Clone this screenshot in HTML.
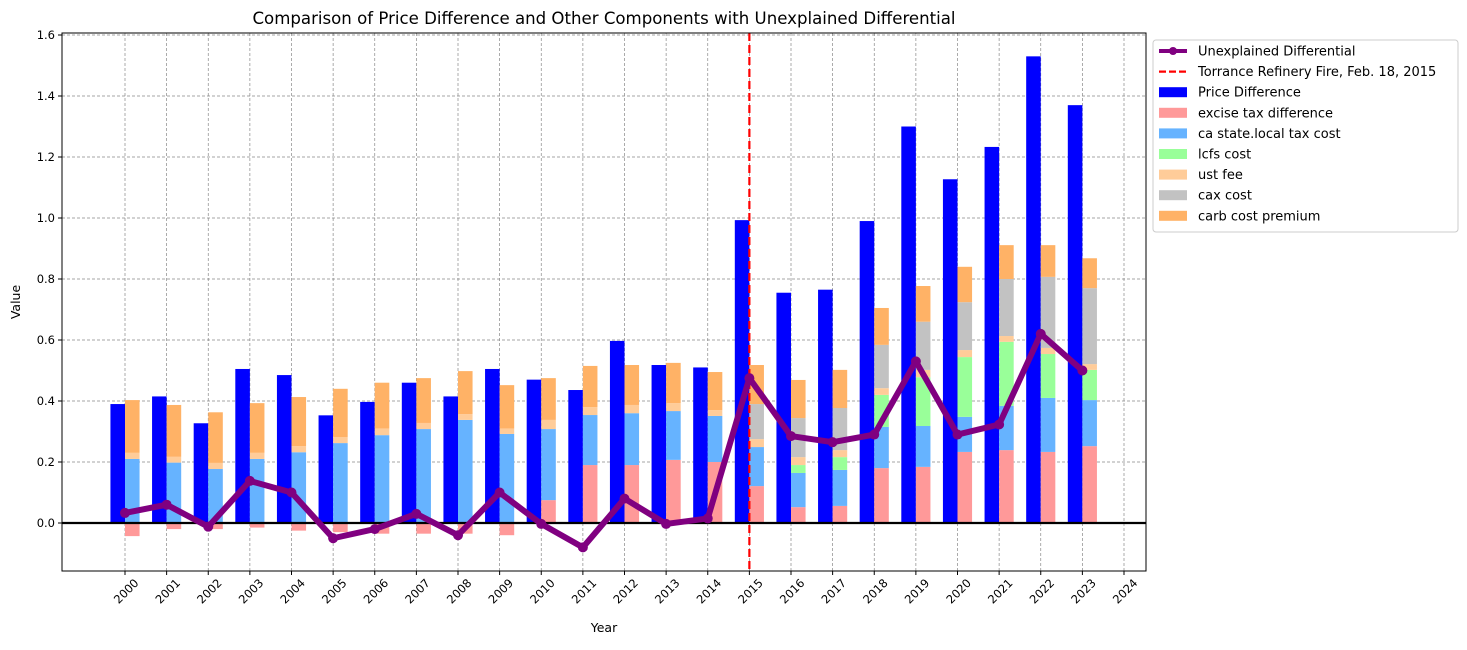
<!DOCTYPE html>
<html><head><meta charset="utf-8"><style>
body{margin:0;background:#fff;font-family:"Liberation Sans","DejaVu Sans",sans-serif;}
svg text{font-family:"DejaVu Sans","Liberation Sans",sans-serif;}
</style></head><body>
<svg id="chart" width="1467" height="645" xmlns="http://www.w3.org/2000/svg"></svg>
<script>
const years=[2000,2001,2002,2003,2004,2005,2006,2007,2008,2009,2010,2011,2012,2013,2014,2015,2016,2017,2018,2019,2020,2021,2022,2023];
const priceDiff=[0.39,0.415,0.327,0.505,0.485,0.353,0.397,0.46,0.415,0.505,0.47,0.436,0.597,0.518,0.51,0.993,0.755,0.765,0.99,1.30,1.127,1.233,1.53,1.37];
const exciseTax=[-0.043,-0.02,-0.02,-0.015,-0.025,-0.03,-0.035,-0.035,-0.035,-0.04,0.075,0.19,0.19,0.207,0.2,0.121,0.052,0.056,0.18,0.184,0.233,0.239,0.233,0.252];
const caStateTax=[0.21,0.198,0.177,0.21,0.232,0.262,0.288,0.308,0.338,0.292,0.233,0.164,0.17,0.16,0.151,0.128,0.112,0.118,0.135,0.134,0.115,0.145,0.177,0.151];
const lcfsCost=[0,0,0,0,0,0,0,0,0,0,0,0,0,0,0,0,0.026,0.042,0.105,0.16,0.196,0.21,0.144,0.099];
const ustFee=[0.02,0.019,0.02,0.02,0.02,0.02,0.022,0.02,0.019,0.018,0.03,0.026,0.027,0.026,0.019,0.026,0.026,0.023,0.022,0.024,0.023,0.019,0.02,0.019];
const caxCost=[0,0,0,0,0,0,0,0,0,0,0,0,0,0,0,0.115,0.128,0.138,0.142,0.158,0.157,0.187,0.233,0.249];
const carbPremium=[0.173,0.17,0.166,0.163,0.161,0.158,0.15,0.147,0.141,0.142,0.137,0.135,0.131,0.132,0.125,0.128,0.125,0.125,0.121,0.117,0.116,0.111,0.104,0.098];
const unexplained=[0.033,0.06,-0.012,0.138,0.10,-0.05,-0.02,0.03,-0.04,0.10,-0.003,-0.08,0.08,-0.003,0.015,0.475,0.285,0.265,0.29,0.53,0.29,0.323,0.62,0.50];
const xTicks=[2000,2001,2002,2003,2004,2005,2006,2007,2008,2009,2010,2011,2012,2013,2014,2015,2016,2017,2018,2019,2020,2021,2022,2023,2024];
const yTicks=[0.0,0.2,0.4,0.6,0.8,1.0,1.2,1.4,1.6];

const L=62,R=1146,T=33,B=571;
const X=y=>125+(y-2000)*41.625;
const Y=v=>523-v*305;
const bw=0.35*41.625;
const svg=document.getElementById('chart');
const NS='http://www.w3.org/2000/svg';
function mk(tag,attrs,parent){const e=document.createElementNS(NS,tag);for(const k in attrs)e.setAttribute(k,attrs[k]);(parent||svg).appendChild(e);return e;}

const title=mk('text',{x:604,y:24,'text-anchor':'middle','font-size':16.6,fill:'#000'});
title.textContent='Comparison of Price Difference and Other Components with Unexplained Differential';



const grid=mk('g',{});


xTicks.forEach(t=>mk('line',{x1:X(t),x2:X(t),y1:T,y2:B,stroke:'#888','stroke-width':0.7,'stroke-dasharray':'3,2'},grid));
yTicks.forEach(t=>mk('line',{x1:L,x2:R,y1:Y(t),y2:Y(t),stroke:'#888','stroke-width':0.7,'stroke-dasharray':'3,2'},grid));

years.forEach((yr,i)=>{
  const v=priceDiff[i];
  const r=mk('rect',{x:X(yr)-bw,y:Math.min(Y(v),Y(0)),width:bw,height:Math.abs(Y(v)-Y(0)),fill:'#0000ff'});
  
  
});
const comps=[[caStateTax,'#66b3ff','ca-state-local-tax'],[lcfsCost,'#99ff99','lcfs-cost'],[ustFee,'#ffcc99','ust-fee'],[caxCost,'#c2c2c2','cax-cost'],[carbPremium,'#ffb266','carb-cost-premium']];
years.forEach((yr,i)=>{
  const e=exciseTax[i];
  const r=mk('rect',{x:X(yr),y:Math.min(Y(e),Y(0)),width:bw,height:Math.abs(Y(e)-Y(0)),fill:'#ff9999'});
  
  
  let base=Math.max(e,0);
  comps.forEach(([arr,col,nm])=>{
    const v=arr[i]; if(v<=0)return;
    const s=mk('rect',{x:X(yr),y:Y(base+v),width:bw,height:Y(base)-Y(base+v),fill:col});
    
    
    base+=v;
  });
});
const z=mk('line',{x1:L,x2:R,y1:Y(0),y2:Y(0),stroke:'#000','stroke-width':2.2});


const f=mk('line',{x1:X(2015),x2:X(2015),y1:T,y2:B,stroke:'#ff0000','stroke-width':2.2,'stroke-dasharray':'8,4'});


const pts=years.map((yr,i)=>X(yr)+','+Y(unexplained[i])).join(' ');
const pl=mk('polyline',{points:pts,fill:'none',stroke:'#800080','stroke-width':6,'stroke-linejoin':'round'});


years.forEach((yr,i)=>{
  const c=mk('circle',{cx:X(yr),cy:Y(unexplained[i]),r:5,fill:'#800080'});
  
  
});
const fr=mk('rect',{x:L,y:T,width:R-L,height:B-T,fill:'none',stroke:'#000','stroke-width':1});


xTicks.forEach(t=>{
  mk('line',{x1:X(t),x2:X(t),y1:B,y2:B+4,stroke:'#000'});
  const tx=mk('text',{x:0,y:0,'font-size':11.5,'text-anchor':'middle',transform:`translate(${X(t)+4},${B+23}) rotate(-45)`});
  tx.textContent=t;
  
  
});
yTicks.forEach(t=>{
  mk('line',{x1:L-4,x2:L,y1:Y(t),y2:Y(t),stroke:'#000'});
  const tx=mk('text',{x:L-7,y:Y(t)+4,'font-size':11.5,'text-anchor':'end'});
  tx.textContent=t.toFixed(1);
  
  
});
const xl=mk('text',{x:604,y:632,'font-size':12.5,'text-anchor':'middle'});xl.textContent='Year';


const yl=mk('text',{x:0,y:0,'font-size':12.5,'text-anchor':'middle',transform:'translate(20,302) rotate(-90)'});yl.textContent='Value';



const lg=mk('g',{});


mk('rect',{x:1153,y:40,width:305,height:192,fill:'#fff',stroke:'#ccc',rx:3},lg);
const items=[['line','#800080','Unexplained Differential'],['dash','#ff0000','Torrance Refinery Fire, Feb. 18, 2015'],['box','#0000ff','Price Difference'],['box','#ff9999','excise tax difference'],['box','#66b3ff','ca state.local tax cost'],['box','#99ff99','lcfs cost'],['box','#ffcc99','ust fee'],['box','#c2c2c2','cax cost'],['box','#ffb266','carb cost premium']];
items.forEach((it,i)=>{
  const y=51+i*20.6;
  const g=mk('g',{},lg);
  
  
  if(it[0]==='line'){mk('line',{x1:1159,x2:1187,y1:y,y2:y,stroke:it[1],'stroke-width':4},g);mk('circle',{cx:1173,cy:y,r:4,fill:it[1]},g);}
  else if(it[0]==='dash'){mk('line',{x1:1159,x2:1187,y1:y,y2:y,stroke:it[1],'stroke-width':2.2,'stroke-dasharray':'7,3'},g);}
  else mk('rect',{x:1159,y:y-5,width:28,height:10,fill:it[1]},g);
  const t=mk('text',{x:1198,y:y+4.5,'font-size':13},g);t.textContent=it[2];
});
</script>
</body></html>
